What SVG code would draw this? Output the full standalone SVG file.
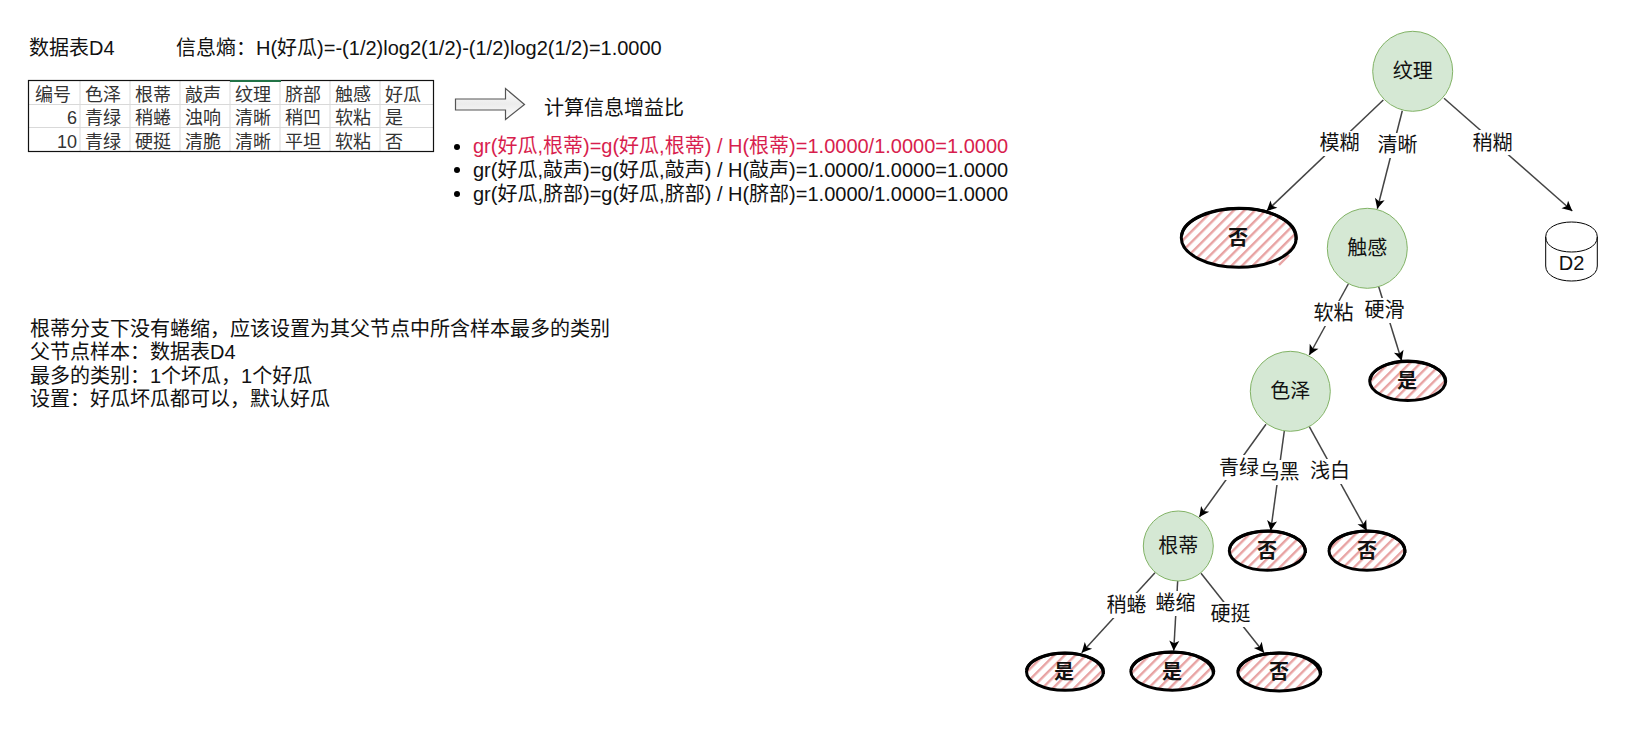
<svg xmlns="http://www.w3.org/2000/svg" width="1641" height="745" viewBox="0 0 1641 745">
<style>
text{font-family:"Liberation Sans","Noto Sans CJK SC",sans-serif;font-size:20px;fill:#111}
.t{font-size:18px;fill:#333}
.r{text-anchor:end}
.m{text-anchor:middle;dominant-baseline:central}
.b{font-weight:bold}
.red{fill:#d81e4e}
.n{fill:#d5e8d4;stroke:#82b366;stroke-width:1}
.h{fill:url(#hatch);stroke:none}
.s{fill:none;stroke:#000;stroke-width:3}
.c{fill:none;stroke:#444;stroke-width:1.5;marker-end:url(#arr)}
.g{stroke:#d9d9d9;stroke-width:1;fill:none}
.lb{fill:#fff;stroke:none}
</style>
<defs>
<marker id="arr" markerUnits="userSpaceOnUse" markerWidth="14" markerHeight="14" refX="11" refY="6" orient="auto"><path d="M1 1 L11 6 L1 11 L3.5 6 Z" fill="#000"/></marker>
<pattern id="hatch" width="7.5" height="10" patternUnits="userSpaceOnUse" patternTransform="rotate(45)"><rect x="0" y="0" width="2.4" height="10" fill="#e8a3a3"/></pattern>
<linearGradient id="ag" x1="0" y1="0" x2="0" y2="1"><stop offset="0" stop-color="#fff"/><stop offset="0.5" stop-color="#ececec"/><stop offset="1" stop-color="#fff"/></linearGradient>
</defs>

<g id="heading">
<text x="29" y="55">数据表D4</text>
<text x="176" y="55">信息熵：H(好瓜)=-(1/2)log2(1/2)-(1/2)log2(1/2)=1.0000</text>
</g>

<g id="table">
<rect x="28.5" y="80.5" width="405" height="71" fill="#fff" stroke="none"/>
<path class="g" d="M80 81V151M130 81V151M180 81V151M230 81V151M280 81V151M330 81V151M380 81V151M29 104.5H433M29 127.5H433"/>
<rect x="28.5" y="80.5" width="405" height="71" fill="none" stroke="#111" stroke-width="1.2"/>
<rect x="230" y="80" width="51" height="2" fill="#217346"/>
<text class="t" x="35" y="101">编号</text><text class="t" x="85" y="101">色泽</text><text class="t" x="135" y="101">根蒂</text><text class="t" x="185" y="101">敲声</text><text class="t" x="235" y="101">纹理</text><text class="t" x="285" y="101">脐部</text><text class="t" x="335" y="101">触感</text><text class="t" x="385" y="101">好瓜</text>
<text class="t r" x="77" y="124">6</text><text class="t" x="85" y="124">青绿</text><text class="t" x="135" y="124">稍蜷</text><text class="t" x="185" y="124">浊响</text><text class="t" x="235" y="124">清晰</text><text class="t" x="285" y="124">稍凹</text><text class="t" x="335" y="124">软粘</text><text class="t" x="385" y="124">是</text>
<text class="t r" x="77" y="148">10</text><text class="t" x="85" y="148">青绿</text><text class="t" x="135" y="148">硬挺</text><text class="t" x="185" y="148">清脆</text><text class="t" x="235" y="148">清晰</text><text class="t" x="285" y="148">平坦</text><text class="t" x="335" y="148">软粘</text><text class="t" x="385" y="148">否</text>
</g>

<g id="arrow-note">
<path d="M455.5 99H505.5V88.5L524.5 104.5L505.5 119.5V110H455.5Z" fill="url(#ag)" stroke="#555" stroke-width="1.2"/>
<text x="544" y="115">计算信息增益比</text>
</g>

<g id="gain-list">
<circle cx="457" cy="147" r="3" fill="#000"/><circle cx="457" cy="170" r="3" fill="#000"/><circle cx="457" cy="194" r="3" fill="#000"/>
<text class="red" x="473" y="153">gr(好瓜,根蒂)=g(好瓜,根蒂) / H(根蒂)=1.0000/1.0000=1.0000</text>
<text x="473" y="177">gr(好瓜,敲声)=g(好瓜,敲声) / H(敲声)=1.0000/1.0000=1.0000</text>
<text x="473" y="201">gr(好瓜,脐部)=g(好瓜,脐部) / H(脐部)=1.0000/1.0000=1.0000</text>
</g>

<g id="note">
<text x="30" y="336">根蒂分支下没有蜷缩，应该设置为其父节点中所含样本最多的类别</text>
<text x="30" y="359">父节点样本：数据表D4</text>
<text x="30" y="383">最多的类别：1个坏瓜，1个好瓜</text>
<text x="30" y="406">设置：好瓜坏瓜都可以，默认好瓜</text>
</g>

<g id="connectors">
<path class="c" d="M1383.3 100L1266.7 211"/>
<path class="c" d="M1402.3 110.7L1377.3 208.7"/>
<path class="c" d="M1444 98.3L1572.3 211"/>
<path class="c" d="M1348.3 284L1309.3 355"/>
<path class="c" d="M1378.7 286.7L1401.7 360.7"/>
<path class="c" d="M1266 424.3L1199.3 517"/>
<path class="c" d="M1284.3 431L1270.7 530.7"/>
<path class="c" d="M1309.3 426.7L1366.7 530.7"/>
<path class="c" d="M1155 572.7L1081.7 652.7"/>
<path class="c" d="M1177.7 580.7L1173.7 650.7"/>
<path class="c" d="M1201 573.3L1264 652.7"/>
<rect class="lb" x="1319" y="131" width="41" height="25"/><text class="m" x="1339.5" y="143">模糊</text>
<rect class="lb" x="1377" y="133" width="41" height="25"/><text class="m" x="1397.5" y="145">清晰</text>
<rect class="lb" x="1472" y="130" width="41" height="25"/><text class="m" x="1492.5" y="142.5">稍糊</text>
<rect class="lb" x="1313" y="301" width="41" height="25"/><text class="m" x="1333.5" y="313">软粘</text>
<rect class="lb" x="1364" y="298" width="41" height="25"/><text class="m" x="1384.5" y="310">硬滑</text>
<rect class="lb" x="1219" y="455" width="41" height="25"/><text class="m" x="1239" y="467.5">青绿</text>
<rect class="lb" x="1259" y="460" width="41" height="25"/><text class="m" x="1279.5" y="472">乌黑</text>
<rect class="lb" x="1310" y="459" width="41" height="25"/><text class="m" x="1330" y="471">浅白</text>
<rect class="lb" x="1106" y="593" width="41" height="25"/><text class="m" x="1126.5" y="605">稍蜷</text>
<rect class="lb" x="1155" y="591" width="41" height="25"/><text class="m" x="1175.5" y="603">蜷缩</text>
<rect class="lb" x="1210" y="602" width="41" height="25"/><text class="m" x="1230.5" y="614">硬挺</text>
</g>

<g id="node-wenli"><circle class="n" cx="1412.7" cy="71.3" r="40"/><text class="m" x="1412.7" y="71.3">纹理</text></g>
<g id="node-chugan"><circle class="n" cx="1367.3" cy="248.3" r="40"/><text class="m" x="1367.3" y="248.3">触感</text></g>
<g id="node-sezhe"><circle class="n" cx="1290.3" cy="391.3" r="40"/><text class="m" x="1290.3" y="391.3">色泽</text></g>
<g id="node-gendi"><circle class="n" cx="1178.3" cy="546" r="35"/><text class="m" x="1178.3" y="546">根蒂</text></g>

<g id="leaf-no-1"><ellipse class="h" cx="1239" cy="238" rx="57" ry="30"/><path d="M1279 265L1289 255" stroke="#e8a3a3" stroke-width="2.4" fill="none"/><ellipse class="s" cx="1238.8" cy="237.7" rx="57.5" ry="29.5"/><path class="s" d="M1181.5 236C1184 219 1212 208.5 1240 208.5C1270 208.5 1297 221 1296 240" stroke-width="2"/><text class="m b" x="1238" y="238">否</text></g>
<g id="leaf-d2"><path d="M1545.7 237C1545.7 217 1597.3 217 1597.3 237V266C1597.3 286 1545.7 286 1545.7 266Z M1545.7 237C1545.7 257 1597.3 257 1597.3 237" fill="#fff" stroke="#000" stroke-width="1"/><text class="m" x="1571.5" y="263">D2</text></g>
<g id="leaf-yes-1"><ellipse class="h" cx="1407.7" cy="381" rx="38" ry="20"/><ellipse class="s" cx="1407.7" cy="381" rx="38" ry="19.5"/><path class="s" d="M1370 380C1372 368 1390 361 1408 361C1428 361 1446 370 1445.5 383" stroke-width="1.5"/><text class="m b" x="1407" y="381">是</text></g>
<g id="leaf-no-2"><ellipse class="h" cx="1267.3" cy="550.7" rx="38" ry="20"/><ellipse class="s" cx="1267.3" cy="550.7" rx="38" ry="19.5"/><path class="s" d="M1229.5 549C1232 537 1250 531 1268 531C1288 531 1306 540 1305.5 553" stroke-width="1.5"/><text class="m b" x="1267" y="551">否</text></g>
<g id="leaf-no-3"><ellipse class="h" cx="1367" cy="550.7" rx="38" ry="20"/><ellipse class="s" cx="1367" cy="550.7" rx="38" ry="19.5"/><path class="s" d="M1329 549C1332 537 1350 531 1368 531C1388 531 1406 540 1405 553" stroke-width="1.5"/><text class="m b" x="1367" y="551">否</text></g>
<g id="leaf-yes-2"><ellipse class="h" cx="1065" cy="671.7" rx="39" ry="19"/><ellipse class="s" cx="1065" cy="671.7" rx="38.5" ry="18.5"/><path class="s" d="M1026.5 670C1029 659 1047 653 1065 653C1085 653 1103 661 1103.5 674" stroke-width="1.5"/><text class="m b" x="1064" y="672">是</text></g>
<g id="leaf-yes-3"><ellipse class="h" cx="1172.3" cy="671.3" rx="42" ry="20"/><ellipse class="s" cx="1172.3" cy="671.3" rx="41.5" ry="19"/><path class="s" d="M1131 670C1134 658 1152 652 1172 652C1194 652 1213 661 1213.5 674" stroke-width="1.5"/><text class="m b" x="1172" y="672">是</text></g>
<g id="leaf-no-4"><ellipse class="h" cx="1279.3" cy="672" rx="42" ry="20"/><ellipse class="s" cx="1279.3" cy="672" rx="41.5" ry="19"/><path class="s" d="M1238 671C1241 659 1259 653 1279 653C1301 653 1320 662 1320.5 675" stroke-width="1.5"/><text class="m b" x="1279" y="672">否</text></g>
</svg>
